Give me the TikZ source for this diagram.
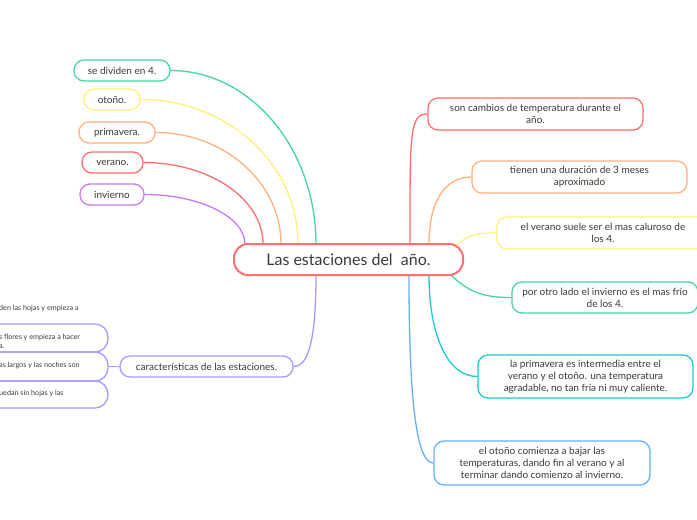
\documentclass[tikz,border=0pt]{standalone}
\usepackage{fontspec}
\setmainfont{Lato}
\usetikzlibrary{positioning, fit, backgrounds}
\definecolor{MM_Red}{HTML}{FF6F6F}
\definecolor{MM_Green}{HTML}{45D6A3}
\definecolor{MM_Yellow}{HTML}{FFF07A}
\definecolor{MM_Orange}{HTML}{FFB27F}
\definecolor{MM_Purple}{HTML}{C67CF0}
\definecolor{MM_Lav}{HTML}{A59CFF}
\definecolor{MM_Cyan}{HTML}{1EC8D2}
\definecolor{MM_Blue}{HTML}{66B2F7}
\definecolor{MM_Text}{HTML}{3A3A3A}
\begin{document}
\begin{tikzpicture}[x=1pt, y=-1pt,
    every node/.style={font=\fontsize{10}{11.8}\selectfont, text=MM_Text},
    topic/.style={draw, fill=white, line width=1.3pt, rounded corners=10pt, align=center, inner sep=0pt},
    leaf/.style={topic, minimum height=21pt},
    mainbox/.style={topic, draw=MM_Red, line width=2pt, rounded corners=14pt, minimum width=229pt, minimum height=31pt, font=\fontsize{16}{18}\selectfont},
    subbox/.style={draw=MM_Lav, line width=1.3pt, rounded corners=13pt, inner sep=0pt},
    subtext/.style={anchor=west, align=left, inner sep=0pt, font=\fontsize{7.2}{9}\selectfont},
    conn/.style={line width=1.3pt}]
  \useasboundingbox (0,0) rectangle (697,520);
  \clip (0,0) rectangle (697,520);
  % Central topic
  \node[mainbox] (main) at (348.5,259.5) {Las estaciones del\ \ año.};
  % Left topics
  \foreach \nm/\cx/\cy/\w/\col in {divide/122/70.5/96/MM_Green, otono/112/99.5/56/MM_Yellow,
      prima/117/132.5/76/MM_Orange, verano/112.5/162.5/61/MM_Red, invierno/112/194.5/64/MM_Purple} {
    \node[leaf, draw=\col, minimum width=\w pt] (\nm) at (\cx,\cy) {};
  }
  \node at (divide) {se dividen en 4.};
  \node at (otono) {otoño.};
  \node at (prima) {primavera.};
  \node at (verano) {verano.};
  \node at (invierno) {invierno};
  \node[leaf, draw=MM_Lav, minimum width=173pt] (carac) at (206.5,366.5) {características de las estaciones.};
  % Sub topics cut by the page edge
  \node[subbox, fit={(-40,324) (108,352)}] (box2) {};
  \node[subbox, fit={(-40,352) (108,381)}] (box3) {};
  \node[subbox, fit={(-40,381) (108,408)}] (box4) {};
  \node[subtext] (sub1) at (-1,308) {den las hojas y empieza a};
  \node[subtext] (sub2) at (-1,341) {s flores y empieza a hacer\\a.};
  \node[subtext] (sub3) at (-1,365.5) {as largos y las noches son};
  \node[subtext] (sub4) at (-1,393.5) {uedan sin hojas y las};
  % Right topics
  \node[topic, draw=MM_Red, minimum width=215pt, minimum height=32pt] (r1) at (535.5,114)
    {son cambios de temperatura durante el\\año.};
  \node[topic, draw=MM_Orange, minimum width=215pt, minimum height=32pt] (r2) at (579.5,177)
    {tienen una duración de 3 meses\\aproximado};
  \node[topic, draw=MM_Yellow, minimum width=212pt, minimum height=32pt] (r3) at (603,233)
    {el verano suele ser el mas caluroso de\\los 4.};
  \node[topic, draw=MM_Green, minimum width=186pt, minimum height=31pt] (r4) at (605,297.5)
    {por otro lado el invierno es el mas frío\\de los 4.};
  \node[topic, draw=MM_Cyan, minimum width=215pt, minimum height=43pt] (r5) at (585.5,376.5)
    {la primavera es intermedia entre el\\verano y el otoño. una temperatura\\agradable, no tan fría ni muy caliente.};
  \node[topic, draw=MM_Blue, minimum width=216pt, minimum height=44pt] (r6) at (542,463)
    {el otoño comienza a bajar las\\temperaturas, dando fin al verano y al\\terminar dando comienzo al invierno.};
  % Branches
  \begin{pgfonlayer}{background}
    \fill[white] (0,0) rectangle (697,520);
    \foreach \nm/\tx/\col/\dx/\dy in {divide/316/MM_Green/80/95, otono/298/MM_Yellow/87/80,
        prima/281/MM_Orange/69/61, verano/263/MM_Red/66/45, invierno/245/MM_Purple/55/27} {
      \coordinate (in-\nm) at (\tx,244);
      \draw[conn, \col] (\nm.east) .. controls +(\dx,0) and +(0,-\dy) .. (in-\nm);
    }
    \coordinate (in-r1) at (410,244);
    \coordinate (in-r2) at (429,244);
    \coordinate (in-r3) at (455,246);
    \coordinate (in-r4) at (450,274);
    \coordinate (in-r5) at (429,275);
    \coordinate (in-r6) at (409,275);
    \coordinate (in-carac) at (316,275);
    \draw[conn, MM_Red] (in-r1) .. controls +(0,-110) and +(-18,0) .. (r1.west);
    \draw[conn, MM_Orange] (in-r2) .. controls +(0,-45) and +(-25,0) .. (r2.west);
    \draw[conn, MM_Yellow] (in-r3) .. controls +(15,-12) and +(-20,0) .. (r3.west);
    \draw[conn, MM_Green] (in-r4) .. controls +(20,20) and +(-25,0) .. (r4.west);
    \draw[conn, MM_Cyan] (in-r5) .. controls +(0,60) and +(-30,0) .. (r5.west);
    \draw[conn, MM_Blue] (in-r6) .. controls +(0,140) and +(-15,0) .. (r6.west);
    \draw[conn, MM_Lav] (in-carac) .. controls +(0,75) and +(12,0) .. (carac.east);
    \draw[conn, MM_Lav] (box3.east) -- (carac.west);
  \end{pgfonlayer}
\end{tikzpicture}
\end{document}
